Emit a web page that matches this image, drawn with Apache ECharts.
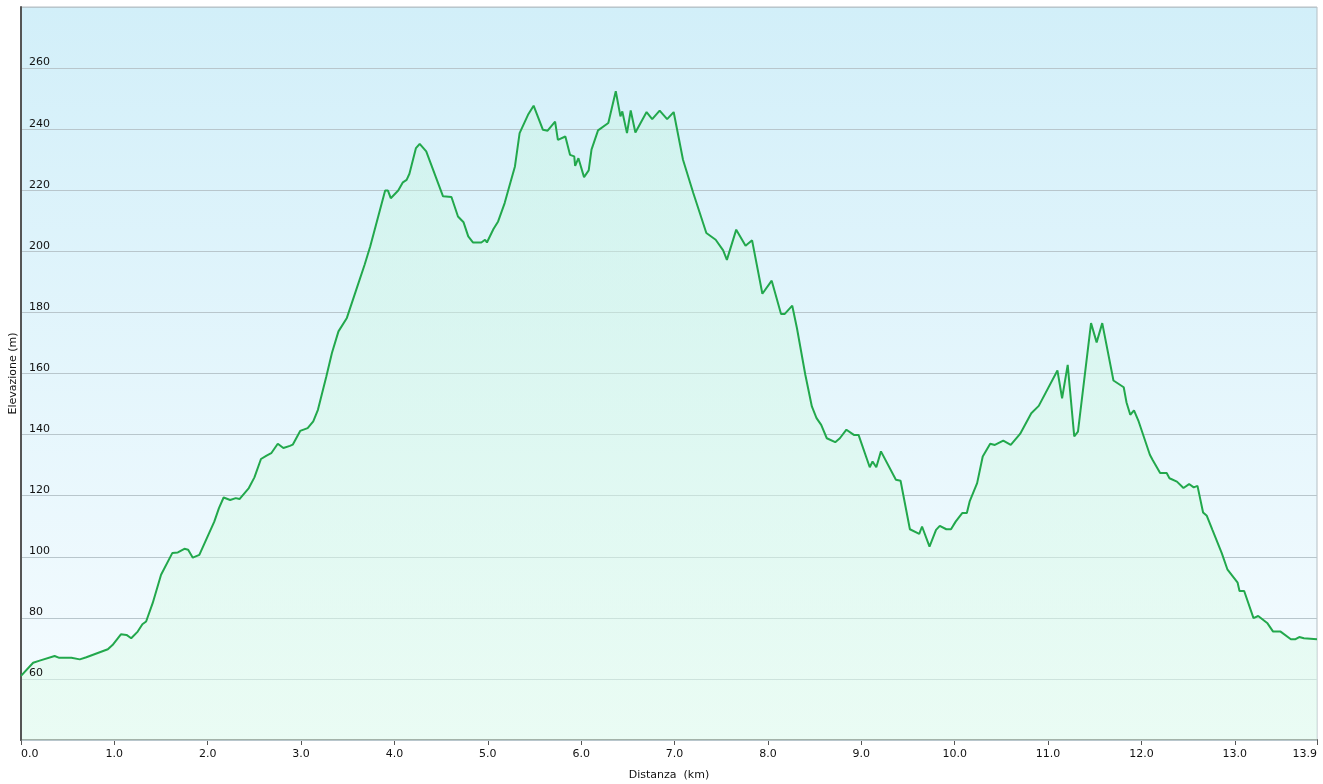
<!DOCTYPE html>
<html>
<head>
<meta charset="utf-8">
<script src="https://cdn.jsdelivr.net/npm/echarts@6/dist/echarts.min.js"></script>
<style>
html,body{margin:0;padding:0;background:#fff;}
#chart{width:1323px;height:784px;}
</style>
</head>
<body>
<div id="chart"></div>
<script>
const distanceKm = [0.00,0.13,0.20,0.36,0.41,0.54,0.63,0.70,0.93,0.98,1.07,1.13,1.18,1.25,1.30,1.34,1.41,1.50,1.62,1.68,1.75,1.79,1.84,1.91,2.07,2.12,2.17,2.24,2.30,2.34,2.44,2.50,2.57,2.63,2.68,2.75,2.81,2.88,2.91,2.99,3.07,3.13,3.18,3.27,3.33,3.40,3.49,3.59,3.68,3.74,3.90,3.93,3.96,4.04,4.09,4.13,4.16,4.23,4.27,4.34,4.52,4.61,4.68,4.74,4.79,4.84,4.93,4.97,4.99,5.06,5.11,5.18,5.24,5.29,5.34,5.43,5.49,5.51,5.59,5.64,5.72,5.75,5.83,5.88,5.925,5.935,5.97,6.03,6.08,6.11,6.18,6.29,6.37,6.42,6.44,6.49,6.53,6.58,6.70,6.76,6.84,6.92,6.99,7.09,7.20,7.34,7.44,7.52,7.56,7.66,7.76,7.83,7.94,8.04,8.14,8.18,8.26,8.31,8.40,8.47,8.52,8.57,8.63,8.72,8.77,8.84,8.92,8.97,9.09,9.12,9.16,9.21,9.37,9.42,9.52,9.62,9.65,9.73,9.80,9.84,9.91,9.96,10.01,10.08,10.13,10.16,10.24,10.30,10.38,10.43,10.52,10.60,10.70,10.82,10.90,11.10,11.15,11.21,11.28,11.32,11.46,11.52,11.58,11.70,11.81,11.84,11.88,11.92,11.97,12.09,12.12,12.20,12.27,12.30,12.38,12.45,12.51,12.56,12.60,12.66,12.70,12.76,12.86,12.92,13.03,13.05,13.10,13.20,13.25,13.35,13.41,13.49,13.60,13.65,13.69,13.74,13.88];
const elevationM = [61.0,65.3,66.0,67.5,66.9,66.9,66.4,67.1,69.7,71.1,74.6,74.4,73.3,75.5,77.9,78.8,84.8,94.1,101.2,101.4,102.6,102.3,99.7,100.6,111.5,115.9,119.4,118.6,119.2,118.9,122.5,126.0,132.0,133.1,133.9,137.0,135.6,136.3,136.7,141.2,142.1,144.3,148.1,159.0,166.7,173.8,178.2,187.4,195.6,201.6,219.9,219.9,217.4,219.9,222.6,223.4,225.4,233.8,235.2,232.7,218.0,217.8,211.4,209.5,204.9,202.9,202.9,203.8,202.9,207.3,209.8,215.8,222.4,227.8,238.7,244.7,247.7,247.5,239.8,239.5,242.5,236.5,237.6,231.6,231.1,228.0,230.5,224.3,226.5,233.3,239.6,242.0,252.4,244.2,245.8,238.7,246.1,238.9,245.6,243.3,246.1,243.3,245.6,230.0,219.1,206.0,203.8,200.3,197.2,207.1,201.8,203.6,186.1,190.4,179.5,179.5,182.2,174.9,159.6,149.2,145.4,143.2,138.8,137.5,138.8,141.6,139.9,139.9,129.3,131.2,129.3,134.5,125.2,124.9,109.0,107.5,109.9,103.3,108.8,110.1,109.0,109.0,111.5,114.3,114.3,118.1,124.1,132.8,137.0,136.6,138.0,136.6,140.2,147.0,149.4,161.0,151.9,162.8,139.4,141.0,176.5,170.2,176.5,157.7,155.5,150.5,146.5,147.9,144.3,133.4,131.7,127.4,127.4,125.7,124.6,122.5,123.8,122.7,123.2,114.5,113.4,108.8,101.2,95.9,91.5,88.8,88.8,79.9,80.6,78.2,75.5,75.5,73.0,73.0,73.7,73.3,73.0];
const xAxisTitle = 'Distanza  (km)';
const yAxisTitle = 'Elevazione (m)';
const yTickValues = [60,80,100,120,140,160,180,200,220,240,260];

const points = distanceKm.map((d, i) => [d, elevationM[i]]);
const chart = echarts.init(document.getElementById('chart'));
const font = 'DejaVu Sans, Verdana, sans-serif';
chart.setOption({
  animation: false,
  grid: {
    left: 21, right: 6, top: 7, bottom: 44,
    outerBoundsMode: 'none',
    containLabel: false,
    show: true,
    borderColor: '#b4bec4', borderWidth: 1,
    backgroundColor: new echarts.graphic.LinearGradient(0, 0, 0, 1, [
      {offset: 0, color: '#d2eff9'},
      {offset: 1, color: '#f6fcff'}
    ])
  },
  xAxis: {
    type: 'value', min: 0, max: 13.88, interval: 1,
    name: xAxisTitle, nameLocation: 'middle', nameGap: 30,
    nameMoveOverlap: false,
    nameTextStyle: {fontFamily: font, fontSize: 11, color: '#111'},
    axisLine: {show: true, lineStyle: {color: '#555', width: 2}},
    axisTick: {show: true, length: 5, lineStyle: {color: '#555'}},
    axisLabel: {
      fontFamily: font, fontSize: 11, color: '#111', margin: 9,
      alignMinLabel: 'left', alignMaxLabel: 'right',
      formatter: v => v.toFixed(1)
    },
    splitLine: {show: false}
  },
  yAxis: {
    type: 'value', min: 40, max: 280, interval: 20,
    z: 3,
    name: yAxisTitle, nameLocation: 'middle', nameGap: 2,
    nameMoveOverlap: false,
    nameTextStyle: {fontFamily: font, fontSize: 11, color: '#111'},
    axisLine: {show: true, lineStyle: {color: '#555', width: 2}},
    axisTick: {show: false},
    axisLabel: {
      inside: true, margin: 8, verticalAlign: 'bottom',
      fontFamily: font, fontSize: 11, color: '#111',
      formatter: v => yTickValues.includes(v) ? String(v) : ''
    },
    splitLine: {show: true, lineStyle: {color: '#b8c6cc', width: 1}}
  },
  series: [{
    type: 'line',
    data: points,
    showSymbol: false,
    smooth: false,
    lineStyle: {color: '#22a84c', width: 2},
    itemStyle: {color: '#22a84c'},
    areaStyle: {
      origin: 'start',
      color: new echarts.graphic.LinearGradient(0, 0, 0, 1, [
        {offset: 0, color: 'rgba(200,245,225,0.6)'},
        {offset: 1, color: 'rgba(225,252,235,0.8)'}
      ])
    }
  }]
});
</script>
</body>
</html>
